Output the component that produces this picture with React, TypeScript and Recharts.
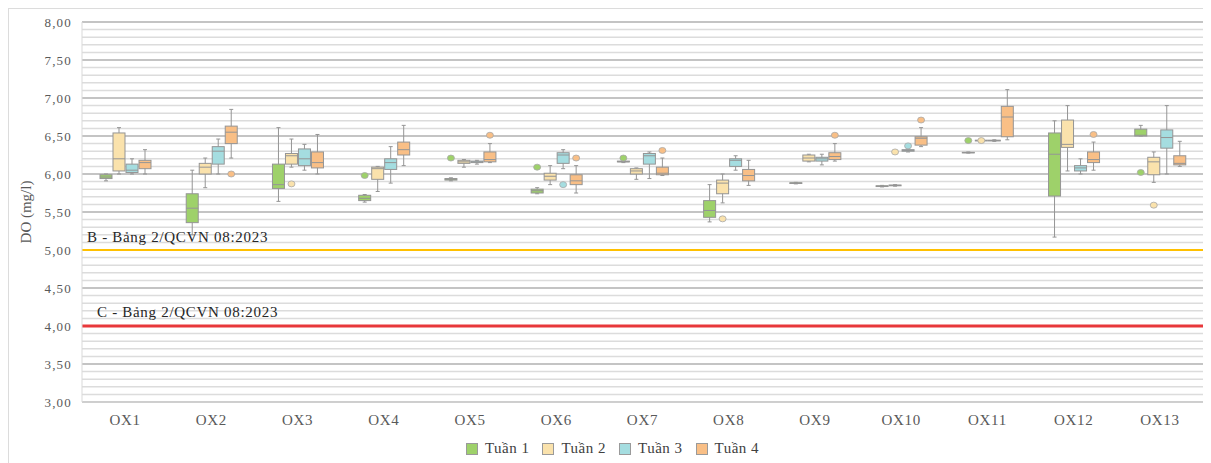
import React from "react";
import {
  ComposedChart,
  Bar,
  XAxis,
  YAxis,
  CartesianGrid,
  ReferenceLine,
  Legend,
} from "recharts";

const categories = [
  "OX1", "OX2", "OX3", "OX4", "OX5", "OX6", "OX7",
  "OX8", "OX9", "OX10", "OX11", "OX12", "OX13",
];

const weekNames = ["Tuần 1", "Tuần 2", "Tuần 3", "Tuần 4"];

// each entry: [min, q1, median, q3, max]
const tuan1 = [
  [5.91, 5.94, 5.96, 5.99, 6.0],
  [5.2, 5.36, 5.55, 5.74, 6.05],
  [5.64, 5.81, 5.86, 6.13, 6.61],
  [5.63, 5.65, 5.68, 5.72, 5.73],
  [5.91, 5.92, 5.93, 5.94, 5.95],
  [5.74, 5.75, 5.78, 5.8, 5.82],
  [6.15, 6.16, 6.16, 6.17, 6.17],
  [5.37, 5.43, 5.52, 5.65, 5.86],
  [5.87, 5.875, 5.88, 5.885, 5.89],
  [5.83, 5.835, 5.84, 5.845, 5.85],
  [6.275, 6.28, 6.28, 6.285, 6.29],
  [5.17, 5.71, 6.26, 6.54, 6.7],
  [6.5, 6.5, 6.51, 6.59, 6.64],
];
const tuan1Out = [[], [], [], [5.98], [6.21], [6.09], [6.21], [], [], [], [6.44], [], [6.02]];

const tuan2 = [
  [6.0, 6.04, 6.2, 6.54, 6.61],
  [5.82, 6.0, 6.09, 6.14, 6.21],
  [6.09, 6.13, 6.24, 6.27, 6.46],
  [5.77, 5.93, 6.07, 6.09, 6.1],
  [6.09, 6.14, 6.16, 6.18, 6.19],
  [5.86, 5.92, 5.97, 6.01, 6.11],
  [5.93, 6.0, 6.04, 6.07, 6.08],
  [5.62, 5.74, 5.88, 5.92, 6.0],
  [6.16, 6.17, 6.21, 6.25, 6.26],
  [5.84, 5.845, 5.85, 5.855, 5.86],
  [6.43, 6.435, 6.44, 6.445, 6.45],
  [6.04, 6.35, 6.39, 6.71, 6.9],
  [5.89, 5.99, 6.16, 6.22, 6.29],
];
const tuan2Out = [[], [], [5.87], [], [], [], [], [5.41], [], [6.29], [6.44], [], [5.59]];

const tuan3 = [
  [6.0, 6.02, 6.05, 6.13, 6.2],
  [6.0, 6.13, 6.3, 6.36, 6.46],
  [6.05, 6.11, 6.2, 6.33, 6.39],
  [5.88, 6.06, 6.15, 6.2, 6.36],
  [6.13, 6.15, 6.16, 6.17, 6.18],
  [6.07, 6.14, 6.25, 6.28, 6.32],
  [5.94, 6.13, 6.24, 6.27, 6.29],
  [6.05, 6.1, 6.18, 6.2, 6.24],
  [6.12, 6.17, 6.2, 6.22, 6.26],
  [6.29, 6.3, 6.31, 6.32, 6.33],
  [6.43, 6.435, 6.44, 6.445, 6.45],
  [6.0, 6.04, 6.08, 6.11, 6.2],
  [6.0, 6.34, 6.48, 6.58, 6.9],
];
const tuan3Out = [[], [], [], [], [], [5.86], [], [], [], [6.37], [], [], []];

const tuan4 = [
  [6.0, 6.07, 6.15, 6.18, 6.32],
  [6.21, 6.4, 6.55, 6.63, 6.85],
  [6.0, 6.08, 6.15, 6.29, 6.52],
  [6.11, 6.25, 6.32, 6.42, 6.64],
  [6.15, 6.16, 6.19, 6.29, 6.4],
  [5.75, 5.86, 5.91, 5.99, 6.11],
  [5.98, 5.99, 6.01, 6.09, 6.21],
  [5.85, 5.91, 5.98, 6.06, 6.18],
  [6.17, 6.19, 6.23, 6.28, 6.4],
  [6.36, 6.38, 6.47, 6.49, 6.61],
  [6.45, 6.49, 6.75, 6.89, 7.11],
  [6.05, 6.15, 6.19, 6.29, 6.42],
  [6.1, 6.12, 6.14, 6.24, 6.43],
];
const tuan4Out = [[], [6.0], [], [], [6.51], [6.21], [6.31], [], [6.51], [6.71], [], [6.52], []];

const yTicks = [3, 3.5, 4, 4.5, 5, 5.5, 6, 6.5, 7, 7.5, 8];
const yDomain = [3, 8];
const limitB = 5;
const limitC = 4;

const COLORS = ["#9ED16A", "#FAE2AC", "#A5DDE0", "#F9BF86"];
const EDGE = "#959595";
const FONT = "'Liberation Serif', 'Times New Roman', serif";

const boxes = [tuan1, tuan2, tuan3, tuan4];
const outliers = [tuan1Out, tuan2Out, tuan3Out, tuan4Out];

const data = categories.map((name, i) => {
  const row: any = { name };
  boxes.forEach((b, w) => {
    const all = [...b[i], ...outliers[w][i]];
    row[`r${w}`] = [Math.min(...all), Math.max(...all)];
    row[`b${w}`] = b[i];
    row[`o${w}`] = outliers[w][i];
  });
  return row;
});

// light grid every 0.1
const minorValues = Array.from({ length: 51 }, (_, i) => +(3 + i * 0.1).toFixed(1));

const toPixels = (values: number[]) => (props: any) => {
  const { yAxis, offset } = props || {};
  if (yAxis && typeof yAxis.scale === "function") {
    return values.map((v) => yAxis.scale(v));
  }
  return values.map(
    (v) => offset.top + ((yDomain[1] - v) / (yDomain[1] - yDomain[0])) * offset.height
  );
};

const makeBox = (w: number) => (props: any) => {
  const { x, y, width, height, payload } = props;
  if (x == null || y == null) return <g />;
  const [lo, hi] = payload[`r${w}`];
  const top = Math.min(y, y + height);
  const bottom = Math.max(y, y + height);
  const px = (v: number) => (hi === lo ? top : top + ((hi - v) / (hi - lo)) * (bottom - top));
  const [mn, q1, med, q3, mx] = payload[`b${w}`];
  const cx = x + width / 2;
  return (
    <g>
      <line x1={cx} x2={cx} y1={px(mx)} y2={px(mn)} stroke={EDGE} strokeWidth={1} />
      <line x1={cx - 2} x2={cx + 2} y1={px(mx)} y2={px(mx)} stroke={EDGE} strokeWidth={1} />
      <line x1={cx - 2} x2={cx + 2} y1={px(mn)} y2={px(mn)} stroke={EDGE} strokeWidth={1} />
      <rect
        x={x}
        y={px(q3)}
        width={width}
        height={Math.max(px(q1) - px(q3), 0.5)}
        fill={COLORS[w]}
        stroke={EDGE}
        strokeWidth={1}
      />
      <line x1={x} x2={x + width} y1={px(med)} y2={px(med)} stroke={EDGE} strokeWidth={1} />
      {payload[`o${w}`].map((v: number, k: number) => (
        <ellipse key={k} cx={cx} cy={px(v)} rx={3.5} ry={3} fill={COLORS[w]} stroke="#a8a8a8" strokeWidth={0.8} />
      ))}
    </g>
  );
};

const refLabel = (text: string, dx: number, dy: number) => (props: any) => {
  const { viewBox } = props;
  return (
    <text
      x={viewBox.x + dx}
      y={viewBox.y - dy}
      fill="#262626"
      fontSize={15}
      letterSpacing={0.7}
      fontFamily={FONT}
    >
      {text}
    </text>
  );
};

const renderLegend = () => (
  <div
    style={{
      display: "flex",
      justifyContent: "center",
      alignItems: "center",
      paddingLeft: 13,
      paddingTop: 2,
      fontFamily: FONT,
      fontSize: 15,
      letterSpacing: 0.5,
      color: "#404040",
    }}
  >
    {weekNames.map((n, i) => (
      <span
        key={n}
        style={{ display: "flex", alignItems: "center", marginRight: i < weekNames.length - 1 ? 13 : 0 }}
      >
        <span
          style={{
            display: "inline-block",
            width: 10,
            height: 10,
            background: COLORS[i],
            border: "1px solid #9a9a9a",
            marginRight: 7,
          }}
        />
        {n}
      </span>
    ))}
  </div>
);

export default function App() {
  return (
    <div style={{ width: 1202, height: 454, border: "1px solid #dcdcdc", borderRight: "none", borderBottom: "none" }}>
      <ComposedChart
        width={1202}
        height={454}
        data={data}
        margin={{ top: 13, right: 8, left: 0, bottom: 0 }}
        barSize={12}
        barGap={1}
      >
        <CartesianGrid
          horizontalCoordinatesGenerator={toPixels(minorValues)}
          vertical={false}
          stroke="#dcdcdc"
          strokeWidth={1.5}
        />
        <CartesianGrid
          horizontalCoordinatesGenerator={toPixels(yTicks)}
          vertical={false}
          stroke="#a3a3a3"
          strokeWidth={1}
        />
        <XAxis
          dataKey="name"
          tickLine={false}
          tickSize={0}
          tickMargin={12}
          height={36}
          axisLine={{ stroke: "#d9d9d9" }}
          tick={{ fill: "#595959", fontSize: 15, fontFamily: FONT, letterSpacing: 0.7 }}
        />
        <YAxis
          domain={yDomain}
          ticks={yTicks}
          width={73}
          tickLine={false}
          tickSize={0}
          tickMargin={10}
          allowDataOverflow
          axisLine={{ stroke: "#d9d9d9" }}
          tickFormatter={(v: number) => v.toFixed(2).replace(".", ",")}
          tick={{ fill: "#595959", fontSize: 13, fontFamily: FONT, letterSpacing: 1.2 }}
          label={{
            value: "DO (mg/l)",
            angle: -90,
            position: "insideLeft",
            offset: 17,
            style: { textAnchor: "middle", fill: "#595959", fontSize: 15, fontFamily: FONT },
          }}
        />
        {weekNames.map((n, w) => (
          <Bar
            key={n}
            name={n}
            dataKey={`r${w}`}
            fill={COLORS[w]}
            shape={makeBox(w)}
            activeBar={false}
            isAnimationActive={false}
          />
        ))}
        <ReferenceLine y={limitB} stroke="#FFC000" strokeWidth={2} label={refLabel("B - Bảng 2/QCVN 08:2023", 5, 8)} />
        <ReferenceLine y={limitC} stroke="#E8383B" strokeWidth={3} label={refLabel("C - Bảng 2/QCVN 08:2023", 15, 9)} />
        <Legend verticalAlign="bottom" height={25} content={renderLegend} />
      </ComposedChart>
    </div>
  );
}
